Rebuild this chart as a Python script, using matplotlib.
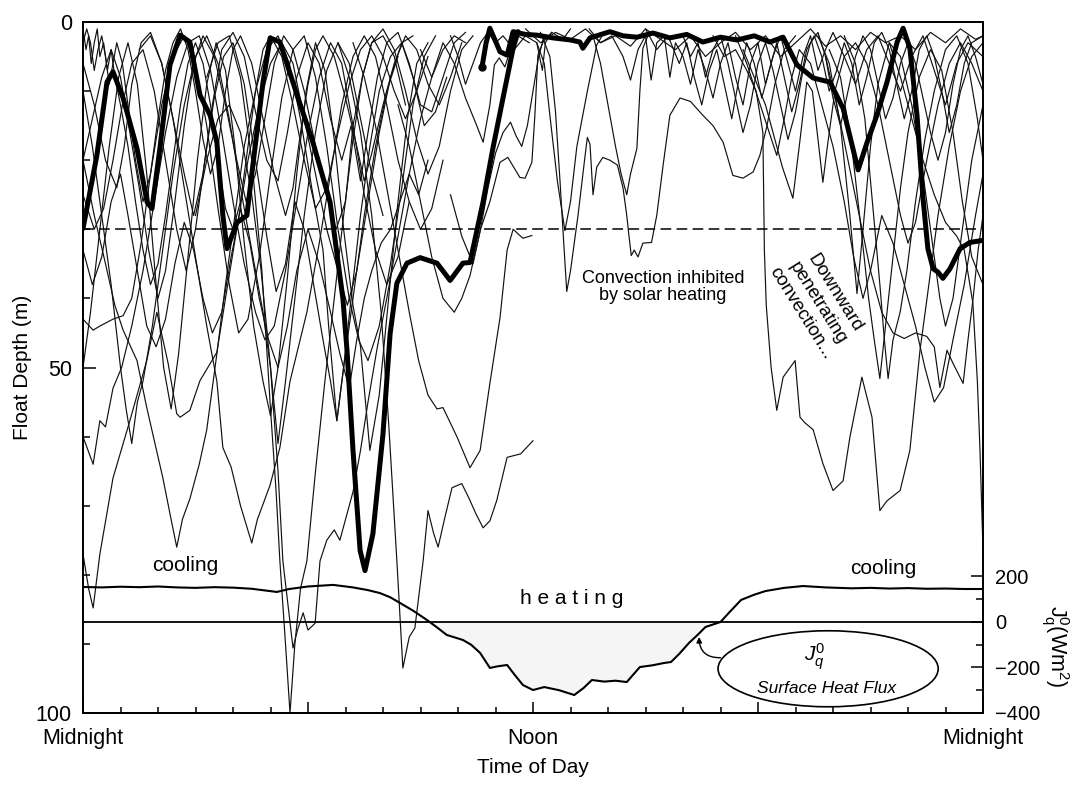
"""Float depth vs time of day, with surface heat flux on a second axis."""

import matplotlib
matplotlib.use("Agg")
import matplotlib.pyplot as plt
from matplotlib.patches import Ellipse

plt.rcParams["font.family"] = ["Liberation Sans", "DejaVu Sans"]
plt.rcParams["mathtext.fontset"] = "custom"
plt.rcParams["mathtext.rm"] = "Liberation Sans"
plt.rcParams["mathtext.it"] = "Liberation Sans:italic"

# ---------------------------------------------------------------------------
# Data: (hour of day, float depth in m)
# ---------------------------------------------------------------------------
thick_a = [(0.0, 29.9), (0.37, 19.3), (0.64, 8.7), (0.8, 7.2), (1.07, 11.0), (1.44, 18.3),
           (1.71, 26.1), (1.84, 27.0), (2.05, 18.3), (2.32, 6.2), (2.59, 1.9), (2.85, 2.9),
           (3.12, 10.6), (3.39, 13.5), (3.57, 17.4), (3.73, 28.0), (3.84, 32.8), (4.11, 29.0),
           (4.37, 28.0), (4.53, 20.7), (4.8, 8.7), (4.99, 2.3), (5.25, 2.9), (5.71, 10.6),
           (6.13, 17.4), (6.59, 26.1), (6.93, 40.0), (7.04, 47.5), (7.2, 62.0), (7.39, 76.5),
           (7.52, 79.4), (7.73, 74.1), (8.0, 59.6), (8.19, 45.1), (8.37, 37.8), (8.64, 34.9),
           (8.99, 34.1), (9.44, 34.9), (9.79, 37.4), (10.13, 34.9), (10.32, 34.8), (10.67, 26.0),
           (10.93, 18.3), (11.2, 11.0), (11.47, 3.8), (11.6, 1.4)]

thick_b = [(10.64, 6.5), (10.75, 3.0), (10.85, 0.9), (11.12, 4.3), (11.31, 4.8), (11.47, 1.4),
           (11.8, 1.8), (12.1, 1.9), (12.53, 2.3), (13.0, 2.6), (13.25, 2.9), (13.33, 3.8),
           (13.52, 2.3), (14.05, 1.4), (14.4, 2.0), (14.77, 2.2), (15.2, 1.6), (15.65, 2.3),
           (16.1, 1.8), (16.53, 2.9), (17.0, 2.2), (17.44, 2.6), (17.9, 2.0), (18.32, 2.9),
           (18.67, 2.2), (19.04, 6.2), (19.47, 8.1), (19.92, 8.7), (20.27, 12.5), (20.53, 18.3),
           (20.67, 21.4), (20.91, 17.4), (21.17, 13.5), (21.44, 8.7), (21.71, 2.9), (21.87, 0.9),
           (22.05, 3.8), (22.24, 13.5), (22.4, 25.5), (22.53, 32.8), (22.67, 35.7), (22.8, 36.2),
           (22.93, 37.1), (23.12, 35.7), (23.39, 32.8), (23.65, 31.9), (24.0, 31.6)]

f01 = [(0.0, 77), (0.15, 82), (0.27, 84.8), (0.45, 77), (0.8, 66), (1.25, 57.7), (1.7, 49),
       (1.97, 42), (2.27, 49.4), (2.5, 56.7), (2.59, 57.2), (2.85, 56.2), (3.12, 51.9),
       (3.57, 47.8), (3.8, 40), (4.1, 30), (4.4, 20), (4.7, 12), (5.0, 6), (5.3, 3), (5.6, 6),
       (5.9, 14), (6.2, 22), (6.5, 30), (6.8, 36), (7.05, 41), (7.3, 36), (7.6, 26), (7.9, 16),
       (8.2, 8), (8.5, 3), (8.8, 2)]
f02 = [(0.0, 60), (0.27, 64), (0.45, 57.7), (0.6, 58.6), (0.8, 53), (1.03, 50), (1.3, 44),
       (1.6, 36), (1.9, 26), (2.2, 16), (2.5, 8), (2.8, 3), (3.1, 2), (3.4, 7), (3.7, 16),
       (4.0, 26), (4.3, 35), (4.6, 42), (4.85, 46), (5.1, 44), (5.4, 36), (5.7, 26), (6.0, 16),
       (6.3, 8), (6.6, 3), (6.9, 6), (7.2, 15), (7.5, 25), (7.8, 33), (8.1, 38), (8.4, 34),
       (8.7, 26)]
f03 = [(0.0, 43), (0.27, 44.6), (0.45, 44), (0.8, 43), (1.07, 42.5), (1.3, 40), (1.55, 32),
       (1.8, 22), (2.1, 12), (2.4, 5), (2.7, 2), (3.0, 6), (3.3, 15), (3.6, 27), (3.9, 38),
       (4.15, 45), (4.4, 43), (4.7, 34), (5.0, 22), (5.3, 11), (5.6, 4), (5.9, 2), (6.2, 8),
       (6.5, 18), (6.8, 30), (7.1, 40), (7.35, 46), (7.6, 49), (7.9, 44), (8.2, 35), (8.5, 24),
       (8.8, 12), (9.1, 5), (9.4, 2)]
f04 = [(0.0, 20), (0.3, 28), (0.6, 35), (0.85, 41), (1.07, 44.6), (1.44, 49), (1.7, 55.8),
       (2.13, 66), (2.35, 72), (2.5, 76), (2.65, 72), (2.85, 69), (3.1, 64), (3.3, 59),
       (3.57, 48), (3.8, 38), (4.05, 28), (4.3, 18), (4.6, 10), (4.9, 4), (5.2, 2), (5.5, 6),
       (5.8, 14), (6.1, 24), (6.4, 33), (6.55, 44), (6.77, 57.7), (6.95, 50), (7.2, 40),
       (7.5, 28), (7.8, 18), (8.1, 10), (8.4, 5)]
f05 = [(1.5, 4), (1.8, 2), (2.1, 6), (2.4, 14), (2.7, 24), (3.0, 34), (3.3, 44), (3.57, 52),
       (3.73, 61.6), (3.95, 64.4), (4.2, 70), (4.5, 75.4), (4.65, 72), (4.99, 67), (5.25, 61.6),
       (5.52, 52), (5.97, 42), (6.3, 32), (6.6, 22), (6.9, 12), (7.2, 5), (7.5, 2), (7.8, 5),
       (8.1, 12), (8.4, 20), (8.7, 26), (9.0, 30), (9.3, 27), (9.6, 20)]
f06 = [(0.0, 10), (0.25, 18), (0.5, 28), (0.75, 38), (1.0, 50), (1.15, 56), (1.3, 61),
       (1.45, 55), (1.6, 52), (1.85, 44), (2.1, 34), (2.4, 22), (2.7, 12), (3.0, 5), (3.3, 2),
       (3.6, 6), (3.9, 14), (4.2, 24), (4.5, 33), (4.8, 42), (5.0, 50), (5.2, 61), (5.4, 52),
       (5.65, 40), (5.9, 28), (6.2, 16), (6.5, 7), (6.8, 3), (7.1, 6), (7.4, 14), (7.7, 22),
       (8.0, 28)]
f07 = [(3.3, 8), (3.6, 3), (3.9, 2), (4.2, 8), (4.5, 20), (4.77, 36), (5.0, 56), (5.15, 68),
       (5.25, 78), (5.4, 90), (5.52, 100), (5.65, 90), (5.8, 82), (5.97, 78), (6.2, 65),
       (6.45, 52), (6.7, 40), (6.95, 28), (7.2, 17), (7.45, 8), (7.7, 3), (8.0, 2), (8.3, 5),
       (8.6, 12)]
f08 = [(3.0, 28), (3.3, 20), (3.6, 14), (3.9, 12), (4.2, 16), (4.5, 25), (4.75, 36), (5.0, 50),
       (5.2, 65), (5.33, 78), (5.6, 90.6), (5.72, 88), (5.87, 85.5), (6.0, 88), (6.19, 87),
       (6.32, 78), (6.5, 75), (6.7, 73.5), (6.85, 75), (7.0, 72), (7.2, 68), (7.4, 62),
       (7.6, 55), (7.85, 47), (8.1, 40), (8.4, 31), (8.7, 22), (9.0, 14), (9.3, 8), (9.6, 4),
       (9.9, 2), (10.2, 3)]
f09 = [(6.8, 3), (7.1, 8), (7.4, 16), (7.7, 28), (7.95, 42), (8.15, 58), (8.37, 78),
       (8.53, 93.5), (8.7, 89), (8.85, 87.7), (9.07, 78), (9.2, 70.7), (9.35, 74), (9.47, 76),
       (9.65, 71.7), (9.84, 67.4), (10.1, 66.8), (10.3, 69), (10.48, 71.2), (10.67, 73.2),
       (10.85, 72.2), (11.03, 69.3), (11.31, 63), (11.67, 62.5), (12.0, 60.6)]
f10 = [(7.2, 3), (7.5, 8), (7.8, 15), (8.1, 24), (8.4, 33), (8.7, 42), (8.95, 49), (9.2, 54),
       (9.44, 56), (9.6, 55.8), (9.97, 60), (10.32, 64.5), (10.59, 62), (10.85, 52.3),
       (11.12, 42.8), (11.31, 33), (11.47, 30), (11.73, 31.3), (11.97, 30.9)]
f11 = [(8.4, 12), (8.7, 18), (9.0, 26), (9.3, 34), (9.6, 40), (9.9, 42), (10.1, 40),
       (10.32, 36.7), (10.6, 30), (10.85, 26), (11.12, 20.3), (11.33, 19.6), (11.65, 22.5),
       (11.79, 22.6), (11.97, 20.3), (12.05, 13.5), (12.13, 4.8), (12.27, 2.9), (12.5, 1.5)]
f12 = [(9.0, 4), (9.3, 8), (9.6, 3), (9.9, 6), (10.2, 11), (10.5, 15), (10.67, 17.4),
       (10.85, 12), (10.97, 6.2), (11.1, 5.2), (11.25, 6.5), (11.4, 4), (11.6, 2), (11.9, 3)]
f13 = [(9.8, 25), (10.1, 31), (10.4, 35), (10.6, 30), (10.8, 24), (11.0, 19), (11.2, 16),
       (11.4, 14.5), (11.55, 16.5), (11.7, 18), (11.85, 15), (12.0, 10), (12.15, 5), (12.3, 2)]

k01 = [(0, 1), (0.08, 4), (0.15, 2), (0.22, 6), (0.3, 3), (0.38, 1), (0.45, 5), (0.55, 3),
       (0.65, 7), (0.75, 4), (0.85, 8), (1.0, 12), (1.2, 18), (1.4, 26), (1.6, 33), (1.8, 38),
       (2.0, 35), (2.2, 28), (2.4, 20), (2.6, 12), (2.8, 6), (3.0, 3), (3.2, 6), (3.4, 12),
       (3.6, 20), (3.8, 27), (4.0, 30), (4.2, 26), (4.4, 18), (4.6, 10), (4.8, 4), (5.0, 2),
       (5.3, 5), (5.6, 12), (5.9, 20), (6.2, 27), (6.5, 24), (6.8, 16), (7.1, 9), (7.4, 4),
       (7.7, 2), (8.0, 5), (8.3, 10), (8.6, 14), (8.9, 10), (9.2, 5)]
k02 = [(0, 6), (0.3, 12), (0.6, 20), (0.9, 24), (1.1, 18), (1.3, 9), (1.55, 3), (1.8, 1.5),
       (2.1, 6), (2.4, 14), (2.7, 22), (2.95, 28), (3.2, 22), (3.45, 12), (3.7, 4), (4.0, 1.5),
       (4.3, 5), (4.6, 13), (4.9, 20), (5.2, 23), (5.45, 16), (5.7, 8), (6.0, 3), (6.3, 6),
       (6.6, 14), (6.9, 20), (7.15, 15), (7.4, 23), (7.6, 16), (7.85, 8), (8.1, 3), (8.4, 1.5),
       (8.7, 6), (9.0, 12), (9.3, 13), (9.6, 8), (9.9, 3), (10.2, 1.5)]
k03 = [(0, 20), (0.25, 14), (0.5, 8), (0.75, 4), (1.0, 8), (1.25, 16), (1.5, 24), (1.75, 33),
       (2.0, 40), (2.2, 36), (2.45, 26), (2.7, 15), (2.95, 6), (3.2, 2), (3.5, 5), (3.8, 12),
       (4.1, 20), (4.35, 26), (4.6, 22), (4.85, 14), (5.1, 6), (5.35, 2), (5.6, 4), (5.9, 10),
       (6.2, 18), (6.5, 25), (6.75, 30), (7.0, 26), (7.2, 15), (7.45, 8), (7.7, 3), (8.0, 1),
       (8.3, 4), (8.6, 10), (8.9, 17), (9.2, 22), (9.5, 18), (9.8, 10), (10.1, 4), (10.4, 2)]
k04 = [(0, 33), (0.25, 38), (0.5, 34), (0.75, 26), (1.0, 22), (1.2, 28), (1.45, 36), (1.7, 44),
       (1.95, 47), (2.2, 43), (2.45, 35), (2.7, 29), (2.95, 33), (3.2, 40), (3.45, 45),
       (3.7, 42), (3.95, 34), (4.2, 27), (4.45, 32), (4.7, 40), (4.95, 46), (5.2, 50),
       (5.45, 44), (5.7, 36), (6.0, 30), (6.3, 35), (6.6, 42), (6.85, 48), (7.1, 53), (7.3, 46),
       (7.5, 40), (7.7, 36), (7.95, 32), (8.2, 30), (8.45, 26), (8.7, 22), (8.95, 25), (9.2, 20)]
k05 = [(0, 50), (0.2, 42), (0.45, 30), (0.7, 18), (0.95, 8), (1.2, 3), (1.45, 9), (1.7, 22),
       (1.95, 38), (2.15, 50), (2.35, 56), (2.55, 48), (2.8, 34), (3.05, 20), (3.3, 9),
       (3.55, 3), (3.8, 7), (4.05, 18), (4.3, 32), (4.55, 44), (4.8, 52), (5.0, 57), (5.2, 50),
       (5.45, 37), (5.7, 22), (5.95, 10), (6.2, 3), (6.45, 7), (6.7, 17), (6.95, 30), (7.2, 41),
       (7.4, 47), (7.65, 62), (7.9, 54), (8.15, 40), (8.4, 26), (8.65, 14), (8.9, 6), (9.2, 3)]
k06 = [(0, 25), (0.3, 30), (0.55, 27), (0.8, 20), (1.05, 12), (1.3, 6), (1.6, 4), (1.9, 10),
       (2.2, 20), (2.5, 30), (2.75, 36), (3.0, 30), (3.25, 20), (3.5, 11), (3.75, 5), (4.0, 3),
       (4.3, 9), (4.6, 20), (4.9, 31), (5.15, 39), (5.4, 35), (5.65, 26), (5.9, 30), (6.15, 38),
       (6.4, 46), (6.6, 52), (6.77, 57.7), (6.95, 50), (7.15, 40), (7.4, 28), (7.65, 18),
       (7.9, 10), (8.2, 5), (8.5, 3), (8.8, 8), (9.1, 15), (9.4, 13), (9.7, 8)]
k07 = [(0, 3), (0.1, 1), (0.2, 3), (0.3, 7), (0.4, 4), (0.5, 2), (0.6, 5), (0.7, 9), (0.8, 6),
       (0.9, 3), (1.05, 6), (1.2, 12), (1.4, 20), (1.6, 26), (1.8, 22), (2.0, 14), (2.2, 7),
       (2.4, 3), (2.6, 1), (2.8, 4), (3.0, 10), (3.2, 17), (3.4, 22), (3.6, 18), (3.8, 10),
       (4.0, 4), (4.2, 2), (4.5, 6), (4.8, 14), (5.1, 22), (5.4, 28), (5.6, 24), (5.8, 16),
       (6.0, 9), (6.2, 4), (6.4, 2), (6.7, 5), (7.0, 11), (7.3, 18), (7.5, 23), (7.7, 19),
       (8.0, 12), (8.3, 6), (8.6, 2), (8.9, 4), (9.2, 9), (9.5, 12), (9.8, 8), (10.1, 3)]

g01 = [(12.1, 3), (12.3, 6), (12.45, 13.5), (12.65, 23), (12.85, 30.2), (13.0, 26),
       (13.17, 18), (13.45, 10), (13.7, 3.3), (13.9, 1.5)]
g02 = [(12.2, 1.5), (12.45, 5), (12.6, 13), (12.72, 23), (12.82, 32), (12.9, 39), (13.0, 36),
       (13.2, 28), (13.39, 19.3), (13.45, 16.7), (13.52, 17.7), (13.6, 25), (13.7, 21),
       (13.86, 19.6), (14.05, 20), (14.25, 20.7), (14.4, 24), (14.5, 28), (14.56, 31),
       (14.62, 33.8), (14.7, 33), (14.8, 34), (14.93, 32), (15.16, 31.9), (15.3, 28),
       (15.47, 20.7), (15.65, 13.5), (15.92, 11), (16.2, 11.5), (16.53, 13.5), (16.8, 15),
       (17.07, 17.4), (17.33, 22.2), (17.6, 22.6), (17.87, 21.7), (18.05, 19.3), (18.24, 15),
       (18.45, 9), (18.7, 4), (19.0, 2)]
g03 = [(13.6, 2), (13.8, 6), (14.0, 12), (14.2, 18), (14.35, 22), (14.5, 25), (14.6, 22),
       (14.77, 18.3), (14.85, 10), (14.93, 3.8), (15.1, 1.5)]

s01 = [(13.5, 1), (13.8, 3), (14.1, 2), (14.4, 5), (14.6, 8.4), (14.8, 4), (15.0, 2),
       (15.15, 8.4), (15.3, 3), (15.5, 2), (15.65, 8), (15.8, 3), (16.0, 5), (16.2, 9), (16.4, 4),
       (16.6, 7), (16.8, 11), (17.0, 6), (17.2, 3), (17.4, 8), (17.6, 12), (17.8, 6), (18.0, 3),
       (18.2, 9), (18.4, 5), (18.6, 2), (18.8, 6), (19.0, 10), (19.2, 5), (19.4, 2), (19.6, 7),
       (19.8, 4), (20.0, 1.5), (20.3, 5), (20.6, 9), (20.9, 4), (21.2, 2), (21.5, 6), (21.8, 10),
       (22.1, 5), (22.4, 2), (22.7, 7), (23.0, 12), (23.3, 6), (23.6, 3), (24, 5)]
s02 = [(15.0, 1), (15.3, 4), (15.6, 2), (15.9, 6), (16.1, 3), (16.3, 8), (16.5, 12), (16.7, 7),
       (16.9, 4), (17.1, 9), (17.3, 14), (17.5, 8), (17.7, 3), (17.9, 6), (18.1, 11), (18.3, 7),
       (18.5, 3), (18.7, 8), (18.9, 13), (19.1, 9), (19.3, 4), (19.5, 2), (19.7, 5), (19.9, 10),
       (20.1, 7), (20.3, 3), (20.5, 6), (20.7, 12), (20.9, 8), (21.1, 3), (21.3, 1.5), (21.5, 4),
       (21.7, 9), (21.9, 14), (22.1, 10), (22.3, 4), (22.5, 2), (22.7, 5), (22.9, 10),
       (23.1, 16), (23.3, 12), (23.5, 6), (23.7, 3), (24, 2)]
s03 = [(16.0, 2), (16.2, 5), (16.4, 3), (16.6, 8), (16.8, 4), (17.0, 2), (17.2, 6), (17.4, 11),
       (17.6, 16), (17.8, 12), (18.0, 6), (18.2, 3), (18.4, 7), (18.6, 12), (18.8, 17),
       (19.0, 13), (19.2, 7), (19.4, 3), (19.6, 1.5), (19.8, 5), (20.0, 11), (20.2, 15),
       (20.4, 10), (20.6, 5), (20.8, 2), (21.0, 4), (21.2, 9), (21.4, 14), (21.6, 11), (21.8, 6),
       (22.0, 3), (22.2, 6), (22.4, 11), (22.6, 16), (22.8, 20), (23.0, 16), (23.2, 9),
       (23.4, 4), (23.6, 2), (23.8, 5), (24, 9)]
s04 = [(11.8, 1), (12.2, 3), (12.6, 1.5), (13.0, 2.5), (13.4, 1), (13.8, 3), (14.2, 2),
       (14.6, 3.5), (15.0, 1), (15.4, 2.5), (15.8, 4), (16.2, 2), (16.6, 5), (17.0, 3),
       (17.4, 1.5), (17.8, 4), (18.2, 2), (18.6, 5), (19.0, 3), (19.4, 1), (19.8, 3.5),
       (20.2, 2), (20.6, 4), (21.0, 1.5), (21.4, 3), (21.8, 2), (22.2, 4), (22.6, 1.5),
       (23.0, 3), (23.4, 1), (23.8, 2.5), (24, 2)]
s05 = [(9.8, 2), (10.0, 5), (10.2, 9), (10.4, 6), (10.6, 3), (10.8, 1.5), (11.0, 3), (11.2, 2),
       (11.5, 4), (11.8, 2), (12.1, 3), (12.25, 7), (12.33, 3), (12.5, 1.5), (12.8, 2.5),
       (13.0, 1)]

r01 = [(16.8, 2), (17.1, 5), (17.4, 4), (17.7, 7), (17.95, 10), (18.13, 16), (18.17, 33),
       (18.22, 41), (18.35, 50), (18.5, 56.2), (18.67, 51.4), (18.99, 49), (19.12, 57.2),
       (19.25, 58), (19.47, 59), (19.73, 63.9), (20.0, 67.8), (20.27, 66.4), (20.45, 60.1),
       (20.77, 51.4), (21.04, 57.2), (21.25, 70.7), (21.44, 69.3), (21.79, 67.8), (22.05, 62),
       (22.32, 47.5), (22.5, 40.3), (22.8, 28), (23.1, 18), (23.4, 10), (23.7, 5), (24, 3)]
r02 = [(21.5, 3), (21.8, 8), (22.1, 14), (22.4, 20), (22.7, 25), (23.0, 29), (23.3, 31),
       (23.5, 33), (23.73, 40.7), (23.85, 52), (23.92, 62), (24.0, 76.5)]
r03 = [(19.8, 5), (20.1, 12), (20.4, 20), (20.7, 28), (21.0, 36), (21.3, 42), (21.6, 45),
       (21.9, 45.8), (22.2, 45), (22.5, 45.5), (22.7, 47), (22.85, 52.9), (23.04, 47.5),
       (23.2, 49.4), (23.47, 52.3), (23.6, 46), (23.73, 40.3), (23.87, 33), (24, 28)]
r04 = [(19.9, 4), (20.2, 8), (20.5, 18), (20.75, 30), (20.95, 40), (21.1, 46), (21.25, 51.6),
       (21.4, 44), (21.6, 34), (21.8, 24), (22.0, 16), (22.3, 8), (22.6, 4), (22.9, 7),
       (23.2, 16), (23.45, 26), (23.7, 34), (24, 38)]
r05 = [(20.3, 2), (20.6, 6), (20.85, 14), (21.05, 26), (21.25, 38), (21.37, 46), (21.47, 51.6),
       (21.6, 46), (21.79, 42), (21.97, 36), (22.2, 26), (22.45, 17), (22.7, 10), (23.0, 4),
       (23.3, 2), (23.6, 6), (23.85, 14), (24, 20)]
r06 = [(19.6, 2), (19.9, 6), (20.2, 15), (20.45, 28), (20.64, 39.3), (20.8, 30), (21.0, 18),
       (21.2, 9), (21.5, 3), (21.8, 5), (22.1, 12), (22.4, 22), (22.65, 32), (22.85, 40),
       (23.0, 44), (23.2, 40), (23.45, 30), (23.7, 20), (24, 12)]
r07 = [(17.6, 4), (17.9, 8), (18.2, 12), (18.4, 16), (18.65, 21), (18.93, 25.5), (19.1, 18),
       (19.3, 8.7), (19.45, 10), (19.6, 17), (19.73, 23.2), (19.85, 18), (20.05, 10), (20.3, 5),
       (20.6, 3), (20.9, 6), (21.2, 12), (21.5, 20), (21.8, 28), (22.0, 32), (22.2, 29),
       (22.5, 20), (22.8, 12), (23.1, 6), (23.4, 3), (23.7, 6), (24, 10)]
r08 = [(17.4, 2), (17.7, 6), (18.0, 11), (18.3, 16), (18.5, 19.3), (18.7, 14), (18.9, 8),
       (19.1, 4), (19.4, 6), (19.7, 12), (20.0, 18), (20.3, 26), (20.55, 34), (20.8, 40),
       (21.0, 36), (21.3, 28), (21.6, 32), (21.9, 38), (22.2, 44), (22.45, 50), (22.7, 55),
       (22.95, 52.9), (23.2, 46), (23.5, 38), (23.8, 28), (24, 22)]

thin_floats = [f01, f02, f03, f04, f05, f06, f07, f08, f09, f10, f11, f12, f13,
               k01, k02, k03, k04, k05, k06, k07, g01, g02, g03,
               s01, s02, s03, s04, s05, r01, r02, r03, r04, r05, r06, r07, r08]

# surface heat flux J_q^0 (W m^-2), positive = cooling
heat_hr = [0, 0.5, 1, 1.5, 2, 2.5, 3, 3.5, 4, 4.5, 5.17, 5.5, 6.0, 6.67, 7.2, 7.6, 7.92, 8.2,
           8.45, 8.8, 9.17, 9.45, 9.7, 10.13, 10.35, 10.59, 10.85, 11.05, 11.31, 11.5, 11.73,
           12.0, 12.3, 12.7, 13.1, 13.35, 13.57, 13.9, 14.2, 14.5, 14.85, 15.2, 15.5, 15.68,
           15.9, 16.16, 16.4, 16.6, 17.0, 17.25, 17.55, 17.9, 18.2, 18.7, 19.2, 19.8, 20.5, 21,
           21.5, 22, 22.5, 23, 23.5, 24]
heat_flux = [154, 152, 155, 153, 156, 152, 150, 153, 151, 146, 132, 145, 156, 163, 152, 140,
             127, 108, 84, 50, 9, -25, -57, -79, -100, -136, -202, -195, -189, -230, -277,
             -299, -286, -300, -321, -290, -255, -262, -258, -264, -198, -190, -180, -176,
             -140, -92, -55, -22, 0, 45, 97, 120, 136, 150, 158, 152, 148, 150, 147, 149, 146,
             147, 145, 145]


def unzip(points):
    hr, depth = zip(*points)
    return list(hr), list(depth)


fig = plt.figure(figsize=(10.83, 7.96), dpi=100)
ax = fig.add_axes([83 / 1083, 1 - 713 / 796, 900 / 1083, 691 / 796])

for fl in thin_floats:
    hr, depth = unzip(fl)
    ax.plot(hr, depth, color="#111111", lw=0.85, solid_joinstyle="round")

for fl in (thick_a, thick_b):
    hr, depth = unzip(fl)
    ax.plot(hr, depth, color="black", lw=3.6, solid_joinstyle="round",
            solid_capstyle="round")
ax.plot(thick_b[0][0], thick_b[0][1], "o", color="black", ms=5)

ax.axhline(30, color="black", lw=1.1, ls=(0, (7, 3.5)))

ax.set_xlim(0, 24)
ax.set_ylim(100, 0)
ax.set_xticks([0, 6, 12, 18, 24])
ax.set_xticklabels(["Midnight", "", "Noon", "", "Midnight"])
ax.set_xticks(range(0, 25), minor=True)
ax.set_yticks([0, 50, 100])
ax.set_yticks(range(0, 101, 10), minor=True)
ax.tick_params(which="both", direction="in", top=False, right=False, width=1.1)
ax.tick_params(axis="x", which="major", length=8, pad=11, labelsize=15.5)
ax.tick_params(axis="x", which="minor", length=4.5)
ax.tick_params(axis="y", which="major", length=9, pad=8, labelsize=15.5)
ax.tick_params(axis="y", which="minor", length=5)
ax.set_xlabel("Time of Day", fontsize=15, labelpad=6)
ax.set_ylabel("Float Depth (m)", fontsize=15, labelpad=3)
for sp in ax.spines.values():
    sp.set_linewidth(1.3)

# annotations
ax.text(15.47, 38.3, "Convection inhibited\nby solar heating", fontsize=13,
        ha="center", va="center", linespacing=1.0)
ax.text(19.6, 40.7, "Downward\npenetrating\nconvection...", fontsize=13.5,
        ha="center", va="center", rotation=-58, rotation_mode="anchor",
        multialignment="center", linespacing=1.2)
ax.text(2.72, 78.7, "cooling", fontsize=15, ha="center", va="center")
ax.text(21.33, 79.1, "cooling", fontsize=15, ha="center", va="center")
ax.text(13.04, 83.5, "h e a t i n g", fontsize=15, ha="center", va="center")
ax.add_patch(Ellipse((19.87, 93.6), width=5.87, height=11.0, fill=False,
                     lw=1.2, color="black"))
ax.text(19.52, 91.8, "$J_q^0$", fontsize=15, ha="center", va="center")
ax.text(19.84, 96.4, "Surface Heat Flux", fontsize=12.5, style="italic",
        ha="center", va="center")
ax.annotate("", xy=(16.43, 89.0), xytext=(17.0, 92.0),
            arrowprops=dict(arrowstyle="-|>", color="black", lw=1.0,
                            mutation_scale=8, shrinkA=0, shrinkB=0,
                            connectionstyle="arc3,rad=-0.5"))

# heat flux on the right axis
ax2 = ax.twinx()
ax2.set_ylim(-400, 2637)
ax2.fill_between(heat_hr, heat_flux, 0, where=[v < 0 for v in heat_flux],
                 interpolate=True, color="#f5f5f5", lw=0)
ax2.plot(heat_hr, heat_flux, color="black", lw=1.5)
ax2.axhline(0, color="black", lw=1.3)
ax2.set_yticks([-400, -200, 0, 200])
ax2.set_yticks([-300, -100, 100], minor=True)
ax2.tick_params(which="both", direction="in", width=1.1)
ax2.tick_params(axis="y", which="major", length=9, pad=9, labelsize=14.5)
ax2.tick_params(axis="y", which="minor", length=5)
for sp in ax2.spines.values():
    sp.set_linewidth(1.3)
ax2.text(1.08, 0.097, r"$\mathrm{J_q^0}$(Wm$^2$)", transform=ax2.transAxes,
         fontsize=15.5, rotation=270, ha="center", va="center")

fig.savefig("out.png", dpi=100)
